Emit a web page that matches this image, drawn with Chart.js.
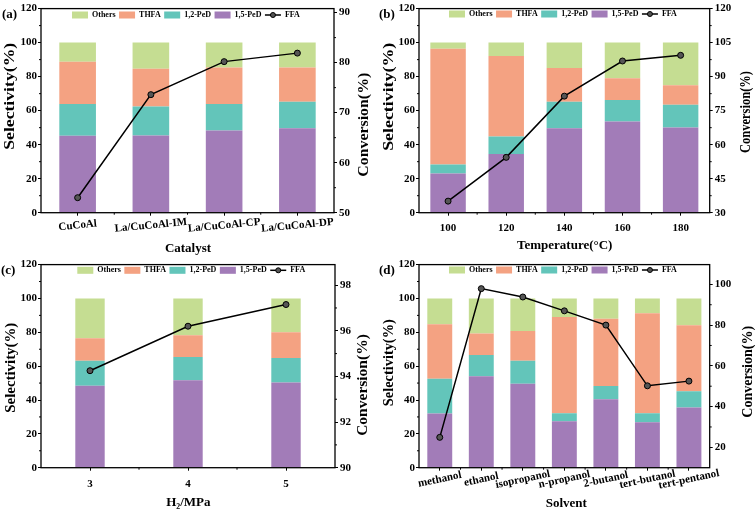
<!DOCTYPE html>
<html>
<head>
<meta charset="utf-8">
<script src="https://cdn.jsdelivr.net/npm/chart.js@4.4.1/dist/chart.umd.min.js"></script>
<style>
  html, body { margin: 0; padding: 0; background: #fff; }
  #grid { position: relative; width: 756px; height: 513px; }
  #grid canvas { position: absolute; }
</style>
</head>
<body>
<div id="grid">
  <canvas id="pa" width="378" height="256" style="left:0;top:0"></canvas>
  <canvas id="pb" width="378" height="256" style="left:378px;top:0"></canvas>
  <canvas id="pc" width="378" height="257" style="left:0;top:256px"></canvas>
  <canvas id="pd" width="378" height="257" style="left:378px;top:256px"></canvas>
</div>
<script>
// (a) catalyst
const catalysts = ['CuCoAl', 'La/CuCoAl-IM', 'La/CuCoAl-CP', 'La/CuCoAl-DP'];
const catPeD15 = [45.2, 45.4, 48.3, 49.7];
const catPeD12 = [18.7, 17.0, 15.6, 15.6];
const catTHFA = [24.8, 22.2, 21.5, 20.1];
const catOthers = [11.3, 15.4, 14.6, 14.6];
const catFFA = [53.0, 73.6, 80.2, 81.9];
const catRightTicks = [50, 60, 70, 80, 90];

// (b) temperature
const temps = ['100', '120', '140', '160', '180'];
const tempPeD15 = [23.0, 34.5, 49.7, 53.6, 50.1];
const tempPeD12 = [5.4, 10.3, 15.6, 12.6, 13.4];
const tempTHFA = [68.0, 47.3, 19.8, 12.9, 11.5];
const tempOthers = [3.6, 7.9, 14.9, 20.9, 25.0];
const tempFFA = [35.1, 54.4, 81.4, 96.9, 99.4];
const tempRightTicks = [30, 45, 60, 75, 90, 105, 120];

// (c) H2 pressure
const pressures = ['3', '4', '5'];
const presPeD15 = [48.4, 51.7, 50.3];
const presPeD12 = [14.8, 13.7, 14.5];
const presTHFA = [13.3, 12.8, 15.2];
const presOthers = [23.5, 21.8, 20.0];
const presFFA = [94.25, 96.2, 97.15];
const presRightTicks = [90, 92, 94, 96, 98];

// (d) solvent
const solvents = ['methanol', 'ethanol', 'isopropanol', 'n-propanol', '2-butanol', 'tert-butanol', 'tert-pentanol'];
const solvPeD15 = [32.0, 54.0, 49.6, 27.5, 40.4, 26.9, 35.5];
const solvPeD12 = [20.5, 12.6, 13.6, 4.7, 7.8, 5.3, 9.6];
const solvTHFA = [32.2, 12.7, 17.6, 56.8, 39.8, 59.1, 39.0];
const solvOthers = [15.3, 20.7, 19.2, 11.0, 12.0, 8.7, 15.9];
const solvFFA = [24.9, 97.9, 93.8, 87.0, 80.0, 50.2, 52.5];
const solvRightTicks = [20, 40, 60, 80, 100];

const leftTicks = [0, 20, 40, 60, 80, 100, 120];

const FONT = '"Liberation Serif", "Times New Roman", serif';
const colOthers = '#c5dd92';
const colTHFA = '#f4a282';
const colPeD12 = '#63c5ba';
const colPeD15 = '#a27cb8';

// rotated axis title, stretched to the length seen in the figure
function vText(ctx, text, cx, cy, len, size) {
    ctx.save();
    ctx.translate(cx, cy);
    ctx.rotate(-Math.PI / 2);
    ctx.font = `bold ${size}px ${FONT}`;
    const w = ctx.measureText(text).width;
    ctx.scale(len / w, 1);
    ctx.textAlign = 'center';
    ctx.textBaseline = 'middle';
    ctx.fillText(text, 0, 0);
    ctx.restore();
}

const decorPlugin = {
    id: 'decor',
    afterDraw(chart, args, o) {
        const ctx = chart.ctx;
        const area = chart.chartArea;
        const {x, y, y1} = chart.scales;
        ctx.save();
        ctx.strokeStyle = '#000';
        ctx.fillStyle = '#000';

        // frame
        ctx.lineWidth = 1.3;
        ctx.strokeRect(area.left, area.top, area.right - area.left, area.bottom - area.top);

        // minor ticks
        ctx.lineWidth = 1;
        ctx.beginPath();
        for (let i = 1; i < y.ticks.length; i++) {
            const py = y.getPixelForValue((y.ticks[i - 1].value + y.ticks[i].value) / 2);
            ctx.moveTo(area.left, py);
            ctx.lineTo(area.left - 2, py);
        }
        for (let i = 1; i < y1.ticks.length; i++) {
            const py = y1.getPixelForValue((y1.ticks[i - 1].value + y1.ticks[i].value) / 2);
            ctx.moveTo(area.right, py);
            ctx.lineTo(area.right + 2, py);
        }
        for (let i = 1; i < x.ticks.length; i++) {
            const px = (x.getPixelForTick(i - 1) + x.getPixelForTick(i)) / 2;
            ctx.moveTo(px, area.bottom);
            ctx.lineTo(px, area.bottom + 2);
        }
        ctx.stroke();

        // x tick labels
        ctx.font = `bold 11px ${FONT}`;
        ctx.textAlign = 'center';
        ctx.textBaseline = 'middle';
        chart.data.labels.forEach((lab, i) => {
            ctx.save();
            ctx.translate(x.getPixelForTick(i), o.xLabelY);
            ctx.rotate(-o.xLabelAngle * Math.PI / 180);
            ctx.fillText(lab, 0, 0);
            ctx.restore();
        });

        // x title
        ctx.font = `bold 13px ${FONT}`;
        ctx.fillText(o.xTitle, o.xTitlePos[0], o.xTitlePos[1]);

        // y titles
        vText(ctx, 'Selectivity(%)', o.yTitle.x, o.yTitle.y, o.yTitle.len, 14);
        vText(ctx, 'Conversion(%)', o.y1Title.x, o.y1Title.y, o.y1Title.len, 14);

        // panel letter
        ctx.font = `bold 13px ${FONT}`;
        ctx.textAlign = 'left';
        ctx.fillText(o.letter, o.letterPos[0], o.letterPos[1]);

        // legend inside the plot
        ctx.font = `bold 8px ${FONT}`;
        let lx = o.legend.x;
        const ly = o.legend.y;
        const bars = chart.data.datasets.filter(d => d.type === 'bar').reverse();
        bars.forEach(d => {
            ctx.fillStyle = d.backgroundColor;
            ctx.fillRect(lx, ly - 3.5, 16, 7);
            ctx.fillStyle = '#000';
            ctx.fillText(d.label, lx + 20, ly);
            lx += 20 + ctx.measureText(d.label).width + 3.5;
        });
        const line = chart.data.datasets.find(d => d.type === 'line');
        ctx.lineWidth = 1.5;
        ctx.beginPath();
        ctx.moveTo(lx, ly);
        ctx.lineTo(lx + 16, ly);
        ctx.stroke();
        ctx.beginPath();
        ctx.arc(lx + 8, ly, 2.5, 0, Math.PI * 2);
        ctx.fillStyle = '#555';
        ctx.fill();
        ctx.lineWidth = 1;
        ctx.stroke();
        ctx.fillStyle = '#000';
        ctx.fillText(line.label, lx + 20, ly);

        ctx.restore();
    }
};

function tickFont() {
    return {family: FONT, size: 11, weight: 'bold'};
}

function makePanel(id, p) {
    const canvas = document.getElementById(id);
    const W = canvas.width, H = canvas.height;
    const barDs = (label, data, color) => ({
        type: 'bar', label, data, backgroundColor: color, yAxisID: 'y', order: 1,
        barPercentage: p.barPct, categoryPercentage: 1, borderWidth: 0
    });
    new Chart(canvas.getContext('2d'), {
        type: 'bar',
        data: {
            labels: p.labels,
            datasets: [
                {
                    type: 'line', label: 'FFA', data: p.ffa, yAxisID: 'y1', order: 0,
                    borderColor: '#000', borderWidth: 1.5, tension: 0,
                    pointRadius: 3, pointBackgroundColor: '#555', pointBorderColor: '#000', pointBorderWidth: 1
                },
                barDs('1,5-PeD', p.series[0], colPeD15),
                barDs('1,2-PeD', p.series[1], colPeD12),
                barDs('THFA', p.series[2], colTHFA),
                barDs('Others', p.series[3], colOthers)
            ]
        },
        options: {
            responsive: false,
            animation: false,
            layout: {padding: {top: p.box.top}},
            plugins: {
                legend: {display: false},
                tooltip: {enabled: false},
                decor: p
            },
            scales: {
                x: {
                    stacked: true,
                    offset: true,
                    grid: {display: true, drawOnChartArea: false, offset: false, tickLength: 3, color: '#000'},
                    border: {display: false},
                    ticks: {display: false},
                    afterFit: s => { s.height = H - p.box.bottom; }
                },
                y: {
                    stacked: true,
                    position: 'left',
                    min: 0,
                    max: 120,
                    afterBuildTicks: s => { s.ticks = leftTicks.map(v => ({value: v})); },
                    ticks: {color: '#000', font: tickFont(), padding: 1},
                    grid: {drawOnChartArea: false, tickLength: 3, color: '#000'},
                    border: {display: false},
                    afterFit: s => { s.width = p.box.left; }
                },
                y1: {
                    position: 'right',
                    min: p.right.min,
                    max: p.right.max,
                    afterBuildTicks: s => { s.ticks = p.right.ticks.map(v => ({value: v})); },
                    ticks: {color: '#000', font: tickFont(), padding: 2},
                    grid: {drawOnChartArea: false, tickLength: 3, color: '#000'},
                    border: {display: false},
                    afterFit: s => { s.width = W - p.box.right; }
                }
            }
        },
        plugins: [decorPlugin]
    });
}

makePanel('pa', {
    labels: catalysts,
    series: [catPeD15, catPeD12, catTHFA, catOthers],
    ffa: catFFA,
    barPct: 0.5,
    right: {min: 50, max: 90.8, ticks: catRightTicks},
    box: {left: 41, right: 334, top: 7.3, bottom: 212.7},
    xTitle: 'Catalyst', xTitlePos: [188, 248.3],
    xLabelY: 225.5, xLabelAngle: 5.5,
    yTitle: {x: 10.5, y: 96.3, len: 107},
    y1Title: {x: 364, y: 124.7, len: 104},
    legend: {x: 72, y: 15},
    letter: '(a)', letterPos: [2, 15]
});

makePanel('pb', {
    labels: temps,
    series: [tempPeD15, tempPeD12, tempTHFA, tempOthers],
    ffa: tempFFA,
    barPct: 0.61,
    right: {min: 30, max: 120, ticks: tempRightTicks},
    box: {left: 41, right: 331.7, top: 7.3, bottom: 212.7},
    xTitle: 'Temperature(\u00B0C)', xTitlePos: [186.7, 246],
    xLabelY: 227.7, xLabelAngle: 0,
    yTitle: {x: 11, y: 96.8, len: 108},
    y1Title: {x: 368, y: 112, len: 82},
    legend: {x: 71, y: 14},
    letter: '(b)', letterPos: [1, 15]
});

makePanel('pc', {
    labels: pressures,
    series: [presPeD15, presPeD12, presTHFA, presOthers],
    ffa: presFFA,
    barPct: 0.30,
    right: {min: 90, max: 98.9, ticks: presRightTicks},
    box: {left: 41, right: 335, top: 6.7, bottom: 211.7},
    xTitle: 'H\u2082/MPa', xTitlePos: [188.3, 246.7],
    xLabelY: 228, xLabelAngle: 0,
    yTitle: {x: 11, y: 111.7, len: 90},
    y1Title: {x: 363, y: 129, len: 101.7},
    legend: {x: 77.3, y: 14.3},
    letter: '(c)', letterPos: [1, 14.5]
});

makePanel('pd', {
    labels: solvents,
    series: [solvPeD15, solvPeD12, solvTHFA, solvOthers],
    ffa: solvFFA,
    barPct: 0.6,
    right: {min: 10, max: 109.7, ticks: solvRightTicks},
    box: {left: 41, right: 331.7, top: 6.7, bottom: 211.7},
    xTitle: 'Solvent', xTitlePos: [188.3, 248],
    xLabelY: 223.5, xLabelAngle: 12,
    yTitle: {x: 11, y: 106.7, len: 87},
    y1Title: {x: 370, y: 115.8, len: 91.7},
    legend: {x: 71, y: 14},
    letter: '(d)', letterPos: [1, 14.5]
});
</script>
</body>
</html>
